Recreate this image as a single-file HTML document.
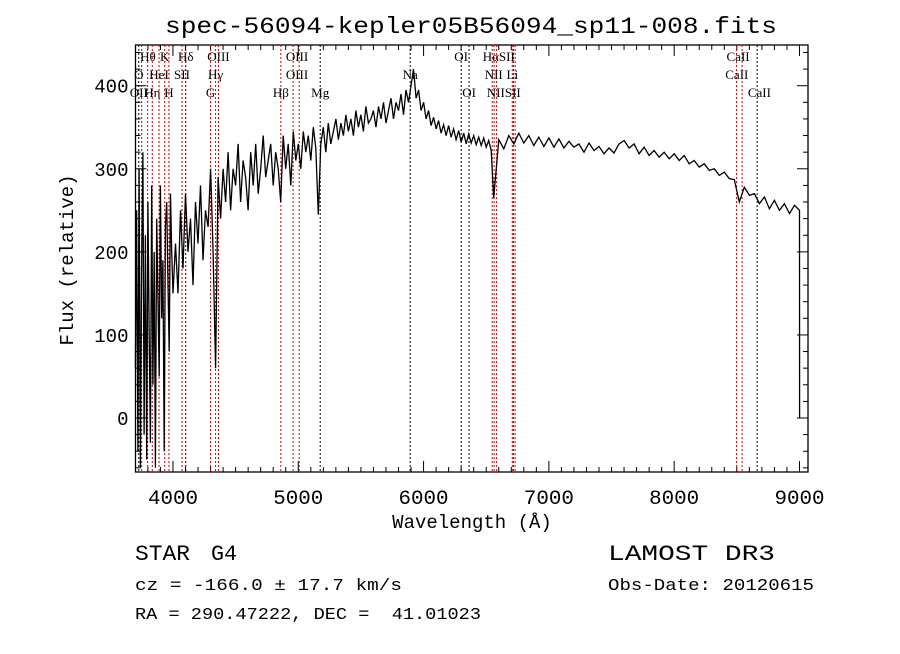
<!DOCTYPE html>
<html><head><meta charset="utf-8"><style>
body{margin:0;background:#fff;}
svg text{font-family:"Liberation Serif",serif;}
.mono{font-family:"Liberation Mono",monospace;white-space:pre;}
</style></head><body>
<svg id="chart" width="900" height="649" xmlns="http://www.w3.org/2000/svg">
<rect width="900" height="649" fill="#fff"/>
<text class="mono" x="165" y="33" font-size="23" textLength="612" lengthAdjust="spacingAndGlyphs">spec-56094-kepler05B56094_sp11-008.fits</text>
<g id="axes"></g>
<g id="lines"></g>
<g id="series"></g>
<text class="mono" x="472" y="528" font-size="19" text-anchor="middle">Wavelength (Å)</text>
<text class="mono" transform="translate(73,260) rotate(-90)" font-size="19" text-anchor="middle">Flux (relative)</text>
<text class="mono" x="135" y="560" font-size="22" textLength="55" lengthAdjust="spacingAndGlyphs">STAR</text>
<text class="mono" x="211" y="560" font-size="22" textLength="26" lengthAdjust="spacingAndGlyphs">G4</text>
<text class="mono" x="608" y="560" font-size="22" textLength="167" lengthAdjust="spacingAndGlyphs">LAMOST DR3</text>
<text class="mono" x="135" y="590" font-size="17" textLength="267" lengthAdjust="spacingAndGlyphs">cz = -166.0 ± 17.7 km/s</text>
<text class="mono" x="608" y="590" font-size="17" textLength="206" lengthAdjust="spacingAndGlyphs">Obs-Date: 20120615</text>
<text class="mono" x="135" y="619" font-size="17" textLength="346" lengthAdjust="spacingAndGlyphs">RA = 290.47222, DEC =  41.01023</text>
</svg>
<script>
const wavelengths=[3700,3710,3720,3730,3740,3750,3760,3770,3780,3790,3800,3810,3820,3830,3840,3850,3860,3870,3880,3890,3900,3910,3920,3930,3940,3950,3960,3970,3980,3990,4000,
4020,4040,4060,4080,4100,4120,4140,4160,4180,4200,4220,4240,4260,4280,4300,4320,4340,4360,4380,4400,
4420,4440,4460,4480,4500,4520,4540,4560,4580,4600,4620,4640,4660,4680,4700,4720,4740,4760,4780,4800,
4820,4840,4860,4880,4900,4920,4940,4960,4980,5000,5020,5040,5060,5080,5100,5120,5140,5160,5180,5200,
5220,5240,5260,5280,5300,5320,5340,5360,5380,5400,5420,5440,5460,5480,5500,5520,5540,5560,5580,5600,
5620,5640,5660,5680,5700,5720,5740,5760,5780,5800,5820,5840,5860,5880,5900,
5920,5940,5960,5980,6000,6020,6040,6060,6080,6100,6120,6140,6160,6180,6200,6220,6240,6260,6280,6300,6320,6340,6360,6380,6400,6420,6440,6460,6480,6500,6520,6540,6560,
6600,6640,6680,6720,6760,6800,6840,6880,6920,6960,7000,7040,7080,7120,7160,7200,7240,7280,7320,7360,7400,7440,7480,7520,7560,7600,7640,7680,7720,7760,7800,7840,7880,7920,7960,8000,8040,8080,8120,8160,8200,8240,8280,8320,8360,8400,8440,8480,8520,8560,8600,8640,8680,8720,8760,8800,8840,8880,8920,8960,9000,9001];
const fluxes=[60,250,-40,300,-60,180,320,-20,220,-50,260,100,-30,280,40,200,-60,240,150,50,280,120,190,-40,230,260,160,80,270,200,150,
210,150,250,180,270,200,240,160,260,210,280,190,250,230,300,200,60,290,240,300,
260,320,250,300,280,330,260,310,290,250,320,280,330,270,300,340,290,310,330,280,
320,300,260,340,300,330,280,345,310,330,300,345,320,340,310,350,325,245,330,350,
320,355,330,345,360,335,355,340,365,345,360,340,370,350,365,345,375,355,360,370,
350,375,360,380,355,370,385,360,380,370,390,365,395,380,400,
420,385,395,370,380,360,370,352,362,348,358,343,353,340,352,338,348,335,346,332,343,330,342,331,340,329,338,328,337,326,334,322,265,
335,324,340,330,343,331,340,328,338,327,337,326,336,325,333,326,330,320,331,322,327,318,325,319,330,334,325,330,318,326,316,322,314,320,312,318,310,316,306,310,302,306,298,300,292,296,288,287,260,278,268,270,258,266,252,262,250,258,246,256,250,0];
const xTicks=[4000,5000,6000,7000,8000,9000];
const yTicks=[0,100,200,300,400];
const lineWaves=[3727,3750,3798,3835,3889,3934,3968,4072,4102,4300,4340,4363,4861,4959,5007,5175,5893,6300,6363,6548,6563,6583,6708,6717,6731,8498,8542,8662];
const lineColors=['#000','#c00','#c00','#c00','#c00','#c00','#c00','#c00','#000','#c00','#c00','#c00','#c00','#c00','#c00','#000','#000','#000','#000','#c00','#c00','#c00','#c00','#c00','#c00','#c00','#c00','#000'];
const labels=[["Hθ",3800,1],["K",3934,1],["Hδ",4102,1],["OIII",4363,1],["OIII",4990,1],["OI",6300,1],["HαSII",6600,1],["CaII",8510,1],
["O",3727,2],["HeI",3889,2],["SII",4072,2],["Hγ",4340,2],["OIII",4990,2],["Na",5893,2],["NII",6560,2],["Li",6708,2],["CaII",8500,2],
["OII",3727,3],["Hη",3835,3],["H",3968,3],["G",4300,3],["Hβ",4861,3],["Mg",5175,3],["OI",6363,3],["NIISII",6640,3],["CaII",8680,3]];
const L=135.5,R=808,T=45,B=472,W0=3701,W1=9068,F0=-65,F1=449;
const sx=w=>L+(w-W0)/(W1-W0)*(R-L);
const sy=f=>B-(f-F0)/(F1-F0)*(B-T);
const NS='http://www.w3.org/2000/svg';
function mk(t,a,p){const e=document.createElementNS(NS,t);for(const k in a)e.setAttribute(k,a[k]);p.appendChild(e);return e;}
const ax=document.getElementById('axes');
const box=mk('rect',{x:L,y:T,width:R-L,height:B-T,fill:'none',stroke:'#000','stroke-width':1.3},ax);


for(let w=3800;w<=9000;w+=100){const x=sx(w);const big=w%1000===0;const h=big?11:5;
mk('line',{x1:x,x2:x,y1:B,y2:B-h,stroke:'#000'},ax);mk('line',{x1:x,x2:x,y1:T,y2:T+h,stroke:'#000'},ax);}
xTicks.forEach(w=>{const t=mk('text',{x:sx(w)-25,y:B+32,'font-size':20,class:'mono',textLength:50,lengthAdjust:'spacingAndGlyphs'},ax);t.textContent=w;

});
for(let f=-60;f<=440;f+=20){const y=sy(f);const big=f%100===0;const h=big?11:5;
mk('line',{x1:L,x2:L+h,y1:y,y2:y,stroke:'#000'},ax);mk('line',{x1:R,x2:R-h,y1:y,y2:y,stroke:'#000'},ax);}
yTicks.forEach(f=>{const t=mk('text',{x:L-7,y:sy(f)+7,'font-size':19,'text-anchor':'end',class:'mono'},ax);t.textContent=f;

});
const lg=document.getElementById('lines');
lineWaves.forEach((w,i)=>{const l=mk('line',{x1:sx(w),x2:sx(w),y1:T,y2:B,stroke:lineColors[i],'stroke-width':1,'stroke-dasharray':'2,2'},lg);

});
const rowY=[0,61,79,97];
labels.forEach(([s,w,r])=>{const t=mk('text',{x:sx(w),y:rowY[r],'font-size':13,'text-anchor':'middle'},lg);t.textContent=s;

});
const sg=document.getElementById('series');
const pts=wavelengths.map((w,i)=>sx(w).toFixed(1)+','+sy(fluxes[i]).toFixed(1)).join(' ');
const pl=mk('polyline',{points:pts,fill:'none',stroke:'#000','stroke-width':1.3},sg);


</script>
</body></html>
